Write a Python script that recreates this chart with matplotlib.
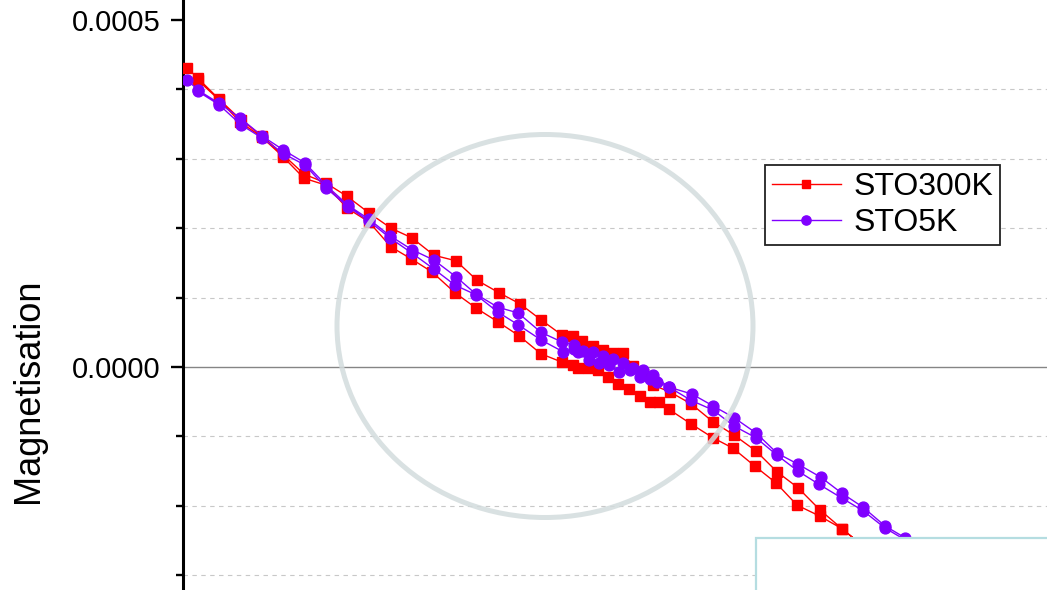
import matplotlib
matplotlib.use("Agg")
import matplotlib.pyplot as plt
from matplotlib.patches import Ellipse, Rectangle
from matplotlib.ticker import MultipleLocator, FixedLocator
import numpy as np

plt.rcParams['font.family'] = ['Liberation Sans', 'DejaVu Sans']

# Field (arbitrary units) and magnetisation (x1e-4)
# STO300K - branch A (upper) and branch B (lower)
h_300_a = [-4.13, -4.02, -3.81, -3.59, -3.38, -3.17, -2.96, -2.74, -2.53, -2.31,
           -2.09, -1.88, -1.66, -1.44, -1.23, -1.01, -0.80, -0.59, -0.38, -0.27,
           -0.18, -0.07, 0.03, 0.13, 0.23, 0.33, 0.43, 0.53, 0.70, 0.91,
           1.13, 1.34, 1.56, 1.77, 1.98, 2.20, 2.42, 2.63]
m_300_a = [4.31, 4.16, 3.86, 3.56, 3.33, 3.06, 2.78, 2.65, 2.46, 2.22,
           2.00, 1.86, 1.61, 1.53, 1.25, 1.07, 0.91, 0.68, 0.46, 0.45,
           0.37, 0.30, 0.24, 0.20, 0.20, 0.01, -0.10, -0.26, -0.36, -0.53,
           -0.79, -0.98, -1.21, -1.51, -1.74, -2.06, -2.33, -2.58]
h_300_b = [-4.02, -3.81, -3.60, -3.38, -3.17, -2.96, -2.74, -2.53, -2.31, -2.09,
           -1.89, -1.68, -1.45, -1.24, -1.02, -0.81, -0.59, -0.38, -0.27, -0.22,
           -0.12, -0.02, 0.08, 0.18, 0.29, 0.40, 0.50, 0.59, 0.69, 0.91,
           1.13, 1.33, 1.55, 1.76, 1.97, 2.20, 2.42, 2.63]
m_300_b = [4.13, 3.85, 3.53, 3.31, 3.03, 2.72, 2.62, 2.29, 2.09, 1.73,
           1.56, 1.37, 1.07, 0.85, 0.65, 0.45, 0.19, 0.07, 0.03, -0.01,
           -0.01, -0.04, -0.14, -0.24, -0.32, -0.42, -0.50, -0.50, -0.61, -0.82,
           -1.02, -1.17, -1.43, -1.67, -1.99, -2.15, -2.33, -2.58]

# STO5K - branch A and branch B
h_5_a = [-4.13, -4.02, -3.81, -3.60, -3.38, -3.17, -2.95, -2.74, -2.52, -2.31,
         -2.10, -1.88, -1.66, -1.44, -1.24, -1.02, -0.82, -0.59, -0.38, -0.26,
         -0.17, -0.07, 0.03, 0.13, 0.23, 0.33, 0.43, 0.53, 0.69, 0.92,
         1.13, 1.34, 1.56, 1.77, 1.98, 2.21, 2.42, 2.63, 2.85, 3.05, 3.26]
m_5_a = [4.14, 3.99, 3.80, 3.59, 3.33, 3.13, 2.94, 2.62, 2.33, 2.13,
         1.89, 1.69, 1.54, 1.30, 1.05, 0.86, 0.78, 0.50, 0.36, 0.32,
         0.23, 0.22, 0.16, 0.12, 0.06, -0.01, -0.04, -0.12, -0.29, -0.39,
         -0.56, -0.73, -0.95, -1.24, -1.40, -1.59, -1.82, -2.02, -2.29, -2.46, -2.70]
h_5_b = [-4.02, -3.81, -3.59, -3.38, -3.16, -2.95, -2.74, -2.52, -2.31, -2.10,
         -1.88, -1.66, -1.45, -1.24, -1.02, -0.82, -0.59, -0.37, -0.26, -0.22,
         -0.11, -0.01, 0.09, 0.19, 0.30, 0.40, 0.50, 0.57, 0.69, 0.91,
         1.13, 1.34, 1.56, 1.77, 1.98, 2.19, 2.42, 2.63, 2.85, 3.05, 3.26]
m_5_b = [3.97, 3.78, 3.49, 3.30, 3.07, 2.91, 2.58, 2.31, 2.10, 1.86,
         1.64, 1.41, 1.18, 1.04, 0.79, 0.61, 0.39, 0.22, 0.26, 0.22,
         0.10, 0.06, 0.03, -0.07, -0.04, -0.14, -0.17, -0.22, -0.29, -0.48,
         -0.62, -0.85, -1.02, -1.27, -1.50, -1.69, -1.89, -2.07, -2.32, -2.49, -2.72]

y_ticks_major = [0.0, 0.0005]
y_tick_labels = ['0.0000', '0.0005']
y_label = 'Magnetisation'
legend_labels = ['STO300K', 'STO5K']

W, H = 1047, 590
fig = plt.figure(figsize=(W / 100, H / 100), dpi=100)
fig.patch.set_facecolor('white')
ax = fig.add_axes([183 / W, 0, 1 - 183 / W, 1])
ax.set_facecolor('white')

scale = 1e-4
h300 = np.array(h_300_a + h_300_b[::-1])
m300 = np.array(m_300_a + m_300_b[::-1]) * scale
h5 = np.array(h_5_a + h_5_b[::-1])
m5 = np.array(m_5_a + m_5_b[::-1]) * scale

ax.plot(h300, m300, color='#ff0000', lw=1.0, marker='s', ms=6.8,
        mec='#ff0000', mfc='#ff0000', label=legend_labels[0], zorder=3)
ax.plot(h5, m5, color='#8000ff', lw=1.0, marker='o', ms=7.8,
        mec='#8000ff', mfc='#8000ff', label=legend_labels[1], zorder=4)

ax.set_xlim(-4.17, 4.47)
ax.set_ylim(-3.213e-4, 5.288e-4)

# grid lines at the minor positions and a solid zero line
for yv in [-0.0003, -0.0002, -0.0001, 0.0001, 0.0002, 0.0003, 0.0004]:
    ax.axhline(yv, color='#c8c8c8', lw=0.8, ls=(0, (4, 4)), zorder=1)
ax.axhline(0.0, color='#858585', lw=1.0, zorder=1)

for s in ['top', 'right', 'bottom']:
    ax.spines[s].set_visible(False)
ax.spines['left'].set_linewidth(2.2)
ax.set_xticks([])
ax.yaxis.set_major_locator(FixedLocator(y_ticks_major))
ax.set_yticklabels(y_tick_labels)
ax.yaxis.set_minor_locator(MultipleLocator(0.0001))
ax.tick_params(axis='y', which='major', length=9, width=1.7, labelsize=21, pad=7)
ax.tick_params(axis='y', which='minor', length=5, width=1.7)

ax.set_ylabel(y_label, fontsize=26)
ax.yaxis.set_label_coords((29 - 183) / (W - 183), 1 - 391 / H)
ax.yaxis.label.set_va('center')

leg = ax.legend(loc='upper left', bbox_to_anchor=(765 / W, 1 - 165 / H),
                bbox_transform=fig.transFigure, fontsize=23, frameon=True,
                fancybox=False, framealpha=1, edgecolor='#222222',
                borderaxespad=0, numpoints=1, handlelength=2.15,
                handletextpad=0.4, labelspacing=0.2, borderpad=0.22,
                markerscale=0.85)
leg.get_frame().set_linewidth(1.3)
leg.set_zorder(10)

# annotation ellipse and inset box (in figure pixels)
ell = Ellipse((545 / W, 1 - 326 / H), 416 / W, 383 / H,
              transform=fig.transFigure, fill=False, ec='#d3dcdd', lw=3.6,
              alpha=0.85, zorder=6)
fig.patches.append(ell)
rect = Rectangle((756 / W, -0.05), 1.0, (H - 538) / H + 0.05,
                 transform=fig.transFigure, fc='white', ec='#b5dde1', lw=1.6,
                 zorder=7)
fig.patches.append(rect)

fig.savefig('out.png', dpi=100)
